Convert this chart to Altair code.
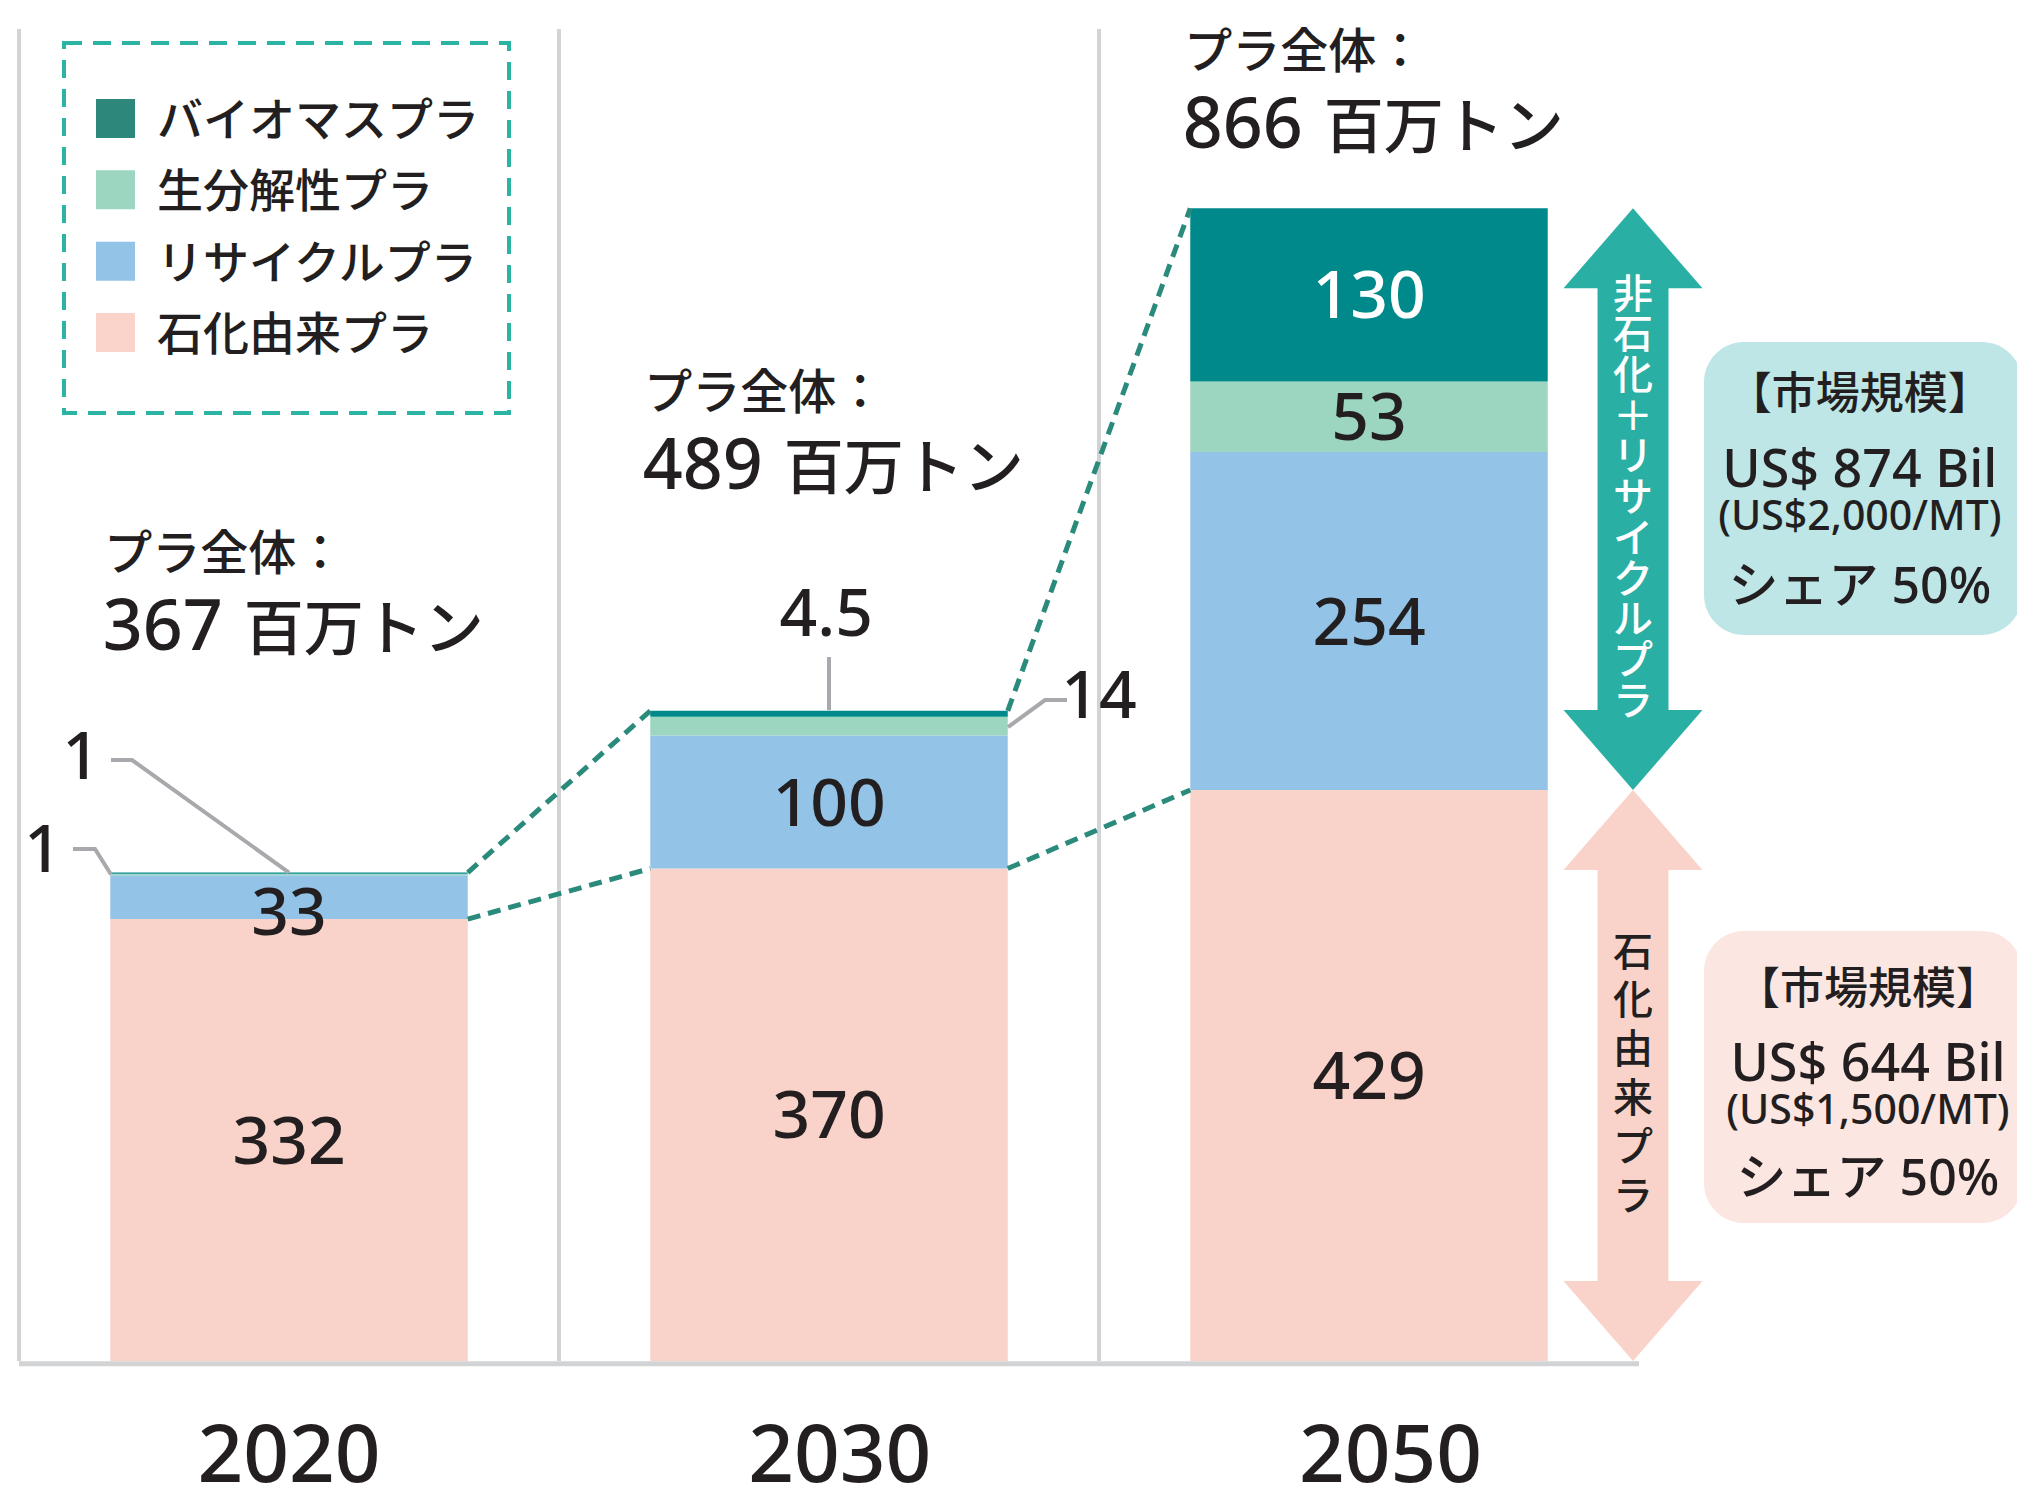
import altair as alt
import pandas as pd

# ---------------- data ----------------
years = ["2020", "2030", "2050"]
categories = ["石化由来プラ", "リサイクルプラ", "生分解性プラ", "バイオマスプラ"]  # bottom -> top
petro = [332, 370, 429]
recycle = [33, 100, 254]
biodeg = [1, 14, 53]
biomass = [1, 4.5, 130]
total_labels = ["367", "489", "866"]
total_title = "プラ全体："
unit_label = "百万トン"
legend_labels = ["バイオマスプラ", "生分解性プラ", "リサイクルプラ", "石化由来プラ"]
bar_colors = ["#f9d3c9", "#93c4e8", "#9cd5c0", "#00898a"]
legend_colors = ["#2e877b", "#9cd5c0", "#93c4e8", "#fad4ca"]
nonpetro_arrow_text = "非石化＋リサイクルプラ"
petro_arrow_text = "石化由来プラ"
market_nonpetro = ["【市場規模】", "US$ 874 Bil", "(US$2,000/MT)", "シェア 50%"]
market_petro = ["【市場規模】", "US$ 644 Bil", "(US$1,500/MT)", "シェア 50%"]

# ---------------- layout / style ----------------
W, H = 2017, 1485
XD = [-0.5352, 3.2]
YD = [-93.16, 1022.54]
PX_PER_UNIT = 1.331
HW = 0.331
DARK = "#231f20"
GRID = "#d1d3d4"
LEADER = "#a7a9ac"
FONT = "Noto Sans, Noto Sans CJK JP"
WEIGHT = 500


def fmt(v):
    return f"{v:g}"


def X(f):
    return alt.X(f, type="quantitative", scale=alt.Scale(domain=XD, nice=False, zero=False), axis=None)


def Y(f):
    return alt.Y(f, type="quantitative", scale=alt.Scale(domain=YD, nice=False, zero=False), axis=None)


# stacked bar segments
rows = []
series = [petro, recycle, biodeg, biomass]
for i, yr in enumerate(years):
    base = 0.0
    for cat, vals in zip(categories, series):
        v = vals[i]
        rows.append(dict(year=yr, slot=i, cat=cat, v=v, y0=base, y1=base + v))
        base += v
bars = pd.DataFrame(rows)
bars["x0"] = bars["slot"] - HW
bars["x1"] = bars["slot"] + HW
bars["mid"] = (bars["y0"] + bars["y1"]) / 2
totals = bars.groupby("slot")["v"].sum().tolist()

# connectors between bars
conn = []
for i in range(len(years) - 1):
    for name, vals in (("petro", petro), ("total", totals)):
        conn.append(dict(g=f"{name}{i}", o=0, x=i + HW, y=vals[i]))
        conn.append(dict(g=f"{name}{i}", o=1, x=i + 1 - HW, y=vals[i + 1]))
conn = pd.DataFrame(conn)

# leaders for small values
leader_pts = {
    "a": [(-0.3296, 451.5), (-0.2907, 451.5), (0.0, 367.0)],
    "b": [(-0.40, 384.7), (-0.3593, 384.7), (-0.3296, 365.5)],
    "c": [(1.0, 528.9), (1.0, 489.0)],
    "d": [(1.4407, 496.6), (1.40, 496.6), (1.3315, 476.3)],
}
lead = pd.DataFrame([dict(g=g, o=k, x=x, y=y) for g, pts in leader_pts.items() for k, (x, y) in enumerate(pts)])

# centred texts
ctext = []
for _, r in bars[bars["v"] >= 20].iterrows():
    ctext.append(dict(x=r["slot"], y=r["mid"] - 17.7 - (10.5 if r["v"] < 40 else 0), text=fmt(r["v"]), fs=66,
                      col="white" if r["cat"] == "バイオマスプラ" else DARK))
for i, yr in enumerate(years):
    ctext.append(dict(x=i * 1.02, y=-90.9, text=yr, fs=80, col=DARK))
ctext.append(dict(x=-0.385, y=437.3, text=fmt(biomass[0]), fs=66, col=DARK))
ctext.append(dict(x=-0.4556, y=367.4, text=fmt(biodeg[0]), fs=66, col=DARK))
ctext.append(dict(x=0.995, y=544.7, text=fmt(biomass[1]), fs=66, col=DARK))
box_fs = [44, 52, 41, 50]
for t, y, fs in zip(market_nonpetro, [715.3, 656.6, 624.3, 569.5], box_fs):
    ctext.append(dict(x=2.909, y=y, text=t, fs=fs, col=DARK))
for t, y, fs in zip(market_petro, [268.2, 210.4, 178.1, 124.7], box_fs):
    ctext.append(dict(x=2.924, y=y, text=t, fs=fs, col=DARK))
ctext = pd.DataFrame(ctext)

# left-aligned texts
ltext = [dict(x=1.43, y=483.1, text=fmt(biodeg[1]), fs=66, col=DARK)]
for i, tl in enumerate(total_labels):
    y2 = min(totals[i] + 167, 911.3)
    ltext.append(dict(x=i - 0.342, y=y2 + 60.1, text=total_title, fs=48, col=DARK))
    ltext.append(dict(x=i - 0.345, y=y2, text=tl, fs=70, col=DARK))
    ltext.append(dict(x=i - 0.084, y=y2, text=unit_label, fs=60, col=DARK))
leg_y = [933.5 - k * 53.6 for k in range(len(legend_labels))]
for lab, y in zip(legend_labels, leg_y):
    ltext.append(dict(x=-0.2444, y=y - 13.15, text=lab, fs=46, col=DARK))
ltext = pd.DataFrame(ltext)

legend_df = pd.DataFrame({"cat": legend_labels, "x": [-0.3213] * 4, "y": leg_y})
legend_box = pd.DataFrame({"x0": [-0.4167], "x1": [0.4074], "y0": [712.2], "y1": [990.2]})

# double arrows: shaft rects + triangular heads
AX, AH, HEAD, SHAFT = 2.4889, 60.1, 0.1287, 0.0657
arrow_specs = [("np", petro[2], totals[2], "#29afa4"), ("p", 0, petro[2], "#f9d3c9")]
shafts, heads = [], []
for g, lo, hi, col in arrow_specs:
    shafts.append(dict(g=g, x0=AX - SHAFT, x1=AX + SHAFT, y0=lo + AH - 0.5, y1=hi - AH + 0.5, col=col))
    for end, tip, base in (("top", hi, hi - AH), ("bot", lo, lo + AH)):
        for x, y in ((AX - HEAD, base), (AX, tip), (AX + HEAD, base)):
            heads.append(dict(g=g + end, x=x, y=y, yb=base, col=col))
shafts = pd.DataFrame(shafts)
heads = pd.DataFrame(heads)


def vtext_first_line(center, n, lh):
    return center + (n - 1) * lh / 2 / PX_PER_UNIT


LH_NP, LH_P = 40.7, 48.8
vt_np = pd.DataFrame({"x": [AX], "y": [vtext_first_line((petro[2] + totals[2]) / 2, len(nonpetro_arrow_text), LH_NP)],
                      "text": ["\n".join(nonpetro_arrow_text)]})
vt_p = pd.DataFrame({"x": [AX], "y": [vtext_first_line(petro[2] / 2, len(petro_arrow_text), LH_P)],
                     "text": ["\n".join(petro_arrow_text)]})

boxes = pd.DataFrame({"x0": [2.6204, 2.6204], "x1": [3.2093, 3.2093], "y0": [545.5, 103.7],
                      "y1": [765.6, 323.1], "col": ["#bee6e7", "#fce6e1"]})

# ---------------- layers ----------------
sep = alt.Chart(pd.DataFrame({"x": [-0.5, 0.5, 1.5], "yt": [1000.8] * 3, "yb": [0.0] * 3})).mark_rule(
    color=GRID, strokeWidth=4).encode(x=X("x"), y=Y("yt"), y2=alt.Y2("yb"))

bar_layer = alt.Chart(bars).mark_rect().encode(
    x=X("x0"), x2=alt.X2("x1"), y=Y("y0"), y2=alt.Y2("y1"),
    color=alt.Color("cat:N", scale=alt.Scale(domain=categories, range=bar_colors), legend=None))

base_line = alt.Chart(pd.DataFrame({"x": [-0.5], "x2": [2.5], "y": [-2.0]})).mark_rule(
    color=GRID, strokeWidth=5).encode(x=X("x"), x2=alt.X2("x2"), y=Y("y"))

conn_layer = alt.Chart(conn).mark_line(color="#2a8a7c", strokeWidth=5, strokeDash=[13, 8]).encode(
    x=X("x"), y=Y("y"), detail="g:N", order=alt.Order("o:Q"))

lead_layer = alt.Chart(lead).mark_line(color=LEADER, strokeWidth=4).encode(
    x=X("x"), y=Y("y"), detail="g:N", order=alt.Order("o:Q"))

box_layer = alt.Chart(boxes).mark_rect(cornerRadius=40).encode(
    x=X("x0"), x2=alt.X2("x1"), y=Y("y0"), y2=alt.Y2("y1"), color=alt.Color("col:N", scale=None))

shaft_layer = alt.Chart(shafts).mark_rect().encode(
    x=X("x0"), x2=alt.X2("x1"), y=Y("y0"), y2=alt.Y2("y1"), color=alt.Color("col:N", scale=None))

head_layer = alt.Chart(heads).mark_area(orient="vertical").encode(
    x=X("x"), y=Y("y"), y2=alt.Y2("yb"), color=alt.Color("col:N", scale=None), detail="g:N")

vt1 = alt.Chart(vt_np).mark_text(font=FONT, fontSize=40, fontWeight=WEIGHT, lineBreak="\n", lineHeight=LH_NP,
                                 color="white", align="center", baseline="middle").encode(
    x=X("x"), y=Y("y"), text="text:N")
vt2 = alt.Chart(vt_p).mark_text(font=FONT, fontSize=40, fontWeight=WEIGHT, lineBreak="\n", lineHeight=LH_P,
                                color=DARK, align="center", baseline="middle").encode(
    x=X("x"), y=Y("y"), text="text:N")

ctext_layer = alt.Chart(ctext).mark_text(font=FONT, fontWeight=WEIGHT, align="center", baseline="alphabetic").encode(
    x=X("x"), y=Y("y"), text="text:N", size=alt.Size("fs:Q", scale=None), color=alt.Color("col:N", scale=None))

ltext_layer = alt.Chart(ltext).mark_text(font=FONT, fontWeight=WEIGHT, align="left", baseline="alphabetic").encode(
    x=X("x"), y=Y("y"), text="text:N", size=alt.Size("fs:Q", scale=None), color=alt.Color("col:N", scale=None))

legend_frame = alt.Chart(legend_box).mark_rect(fillOpacity=0, stroke="#2bb3a3", strokeWidth=4,
                                               strokeDash=[18, 11]).encode(
    x=X("x0"), x2=alt.X2("x1"), y=Y("y0"), y2=alt.Y2("y1"))

legend_sw = alt.Chart(legend_df).mark_square(size=1521, opacity=1, filled=True).encode(
    x=X("x"), y=Y("y"),
    color=alt.Color("cat:N", scale=alt.Scale(domain=legend_labels, range=legend_colors), legend=None))

chart = alt.layer(
    sep, bar_layer, base_line, conn_layer, lead_layer, box_layer, shaft_layer, head_layer, vt1, vt2,
    ctext_layer, ltext_layer, legend_frame, legend_sw
).resolve_scale(color="independent").properties(
    width=W, height=H, padding=0, autosize=alt.AutoSizeParams(type="none"), background="white"
).configure_view(stroke=None)

chart.save("out.html", embed_options={"renderer": "svg", "actions": False})
